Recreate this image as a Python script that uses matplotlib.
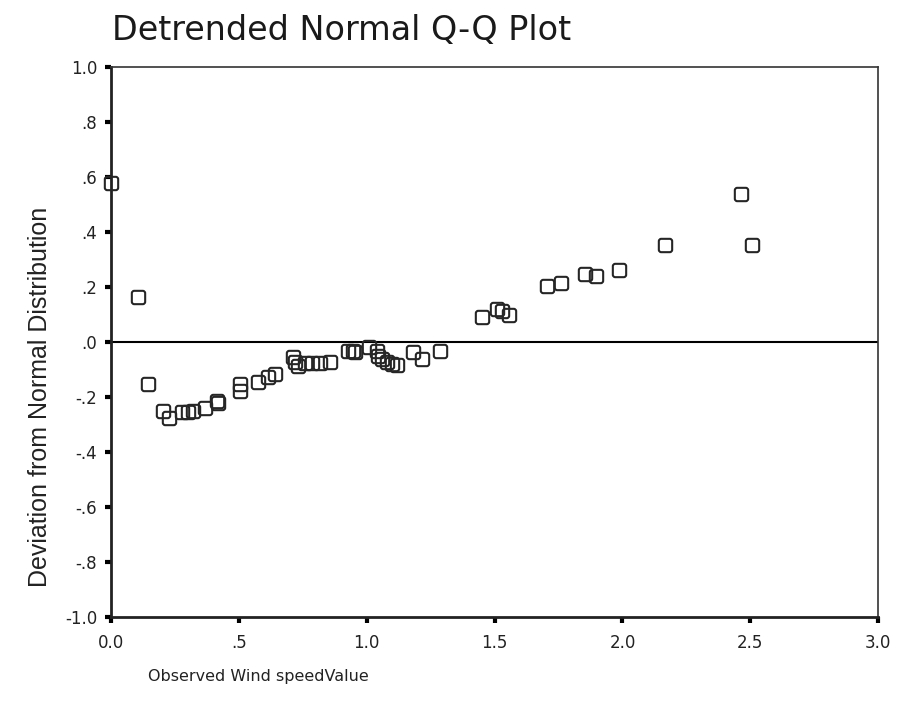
# Detrended normal Q-Q plot of the wind speed values
import numpy as np
import matplotlib
matplotlib.use('Agg')
import matplotlib.pyplot as plt
from matplotlib.path import Path

# observed values and their deviation from the normal line
observed = [0.00, 0.105, 0.145, 0.205, 0.228, 0.278, 0.300, 0.320, 0.367, 0.415, 0.418,
            0.506, 0.506, 0.575, 0.614, 0.643, 0.712, 0.720, 0.731, 0.758, 0.786, 0.817,
            0.856, 0.925, 0.945, 0.955, 1.009, 1.040, 1.044, 1.060, 1.079, 1.099, 1.119,
            1.181, 1.216, 1.287, 1.451, 1.510, 1.529, 1.557, 1.705, 1.760, 1.854, 1.897,
            1.987, 2.167, 2.464, 2.507]
deviation = [0.577, 0.164, -0.153, -0.250, -0.277, -0.255, -0.255, -0.252, -0.241, -0.215, -0.222,
             -0.153, -0.179, -0.146, -0.128, -0.117, -0.055, -0.073, -0.088, -0.077, -0.077, -0.077,
             -0.073, -0.033, -0.033, -0.036, -0.018, -0.033, -0.051, -0.062, -0.073, -0.080, -0.084,
             -0.036, -0.062, -0.033, 0.091, 0.120, 0.113, 0.099, 0.204, 0.215, 0.248, 0.241,
             0.263, 0.354, 0.536, 0.354]

x_ticks = [0.0, 0.5, 1.0, 1.5, 2.0, 2.5, 3.0]
x_labels = ['0.0', '.5', '1.0', '1.5', '2.0', '2.5', '3.0']
y_ticks = [-1.0, -0.8, -0.6, -0.4, -0.2, 0.0, 0.2, 0.4, 0.6, 0.8, 1.0]
y_labels = ['-1.0', '-.8', '-.6', '-.4', '-.2', '.0', '.2', '.4', '.6', '.8', '1.0']

# rounded square marker
r = 0.35
k = 0.55 * r
verts = [(-1 + r, -1), (1 - r, -1), (1 - r + k, -1), (1, -1 + r - k), (1, -1 + r),
         (1, 1 - r), (1, 1 - r + k), (1 - r + k, 1), (1 - r, 1),
         (-1 + r, 1), (-1 + r - k, 1), (-1, 1 - r + k), (-1, 1 - r),
         (-1, -1 + r), (-1, -1 + r - k), (-1 + r - k, -1), (-1 + r, -1), (-1 + r, -1)]
codes = [Path.MOVETO, Path.LINETO, Path.CURVE4, Path.CURVE4, Path.CURVE4,
         Path.LINETO, Path.CURVE4, Path.CURVE4, Path.CURVE4,
         Path.LINETO, Path.CURVE4, Path.CURVE4, Path.CURVE4,
         Path.LINETO, Path.CURVE4, Path.CURVE4, Path.CURVE4, Path.CLOSEPOLY]
rsquare = Path(verts, codes)

fig = plt.figure(figsize=(9.1, 7.19), dpi=100)
ax = fig.add_axes([0.122, 0.142, 0.843, 0.765])

ax.axhline(0, color='black', lw=1.5, zorder=1)
ax.plot(observed, deviation, linestyle='none', marker=rsquare, markersize=9.6,
        markerfacecolor='none', markeredgecolor='#262626', markeredgewidth=1.5,
        zorder=3, clip_on=False)

ax.set_xlim(0, 3.0)
ax.set_ylim(-1.0, 1.0)
ax.set_xticks(x_ticks)
ax.set_xticklabels(x_labels)
ax.set_yticks(y_ticks)
ax.set_yticklabels(y_labels)
ax.tick_params(axis='both', direction='out', length=4, width=3, color='black',
               labelsize=12, labelcolor='#222222')
ax.tick_params(axis='x', pad=8)
ax.tick_params(axis='y', pad=6)

for side in ['left', 'bottom']:
    ax.spines[side].set_linewidth(2)
    ax.spines[side].set_color('#222222')
for side in ['top', 'right']:
    ax.spines[side].set_linewidth(1.2)
    ax.spines[side].set_color('#333333')

# axis titles placed as figure text
fig.text(40 / 910, 1 - 397 / 719, 'Deviation from Normal Distribution', fontsize=18,
         family='Liberation Sans', color='#222222', rotation=90, ha='center', va='center')
fig.text(112 / 910, 1 - 30 / 719, 'Detrended Normal Q-Q Plot', fontsize=24,
         color='#1a1a1a', ha='left', va='center')
fig.text(148 / 910, 1 - 677 / 719, 'Observed Wind speedValue', fontsize=11.5,
         color='#222222', ha='left', va='center')

fig.savefig('out.png', dpi=100)
